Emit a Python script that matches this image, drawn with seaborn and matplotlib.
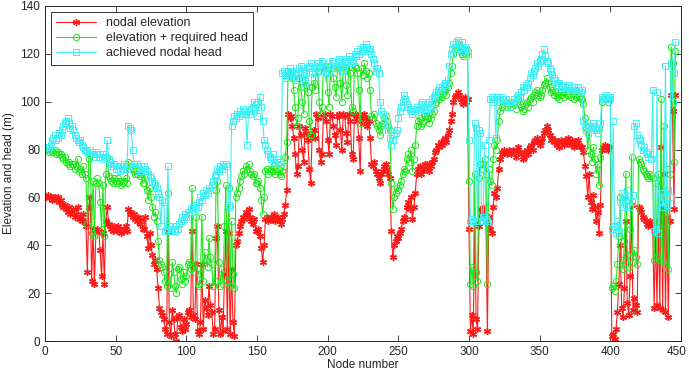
import numpy as np
import pandas as pd
import matplotlib
matplotlib.use("Agg")
import matplotlib.pyplot as plt
import matplotlib.transforms as mtransforms
import seaborn as sns

# values, one per node
elevation = [
    60, 60, 61, 60, 60, 59, 60, 60, 59, 60,
    58, 59, 57, 56, 57, 55, 54, 56, 53, 54,
    55, 52, 53, 56, 51, 52, 50, 53, 50, 48,
    29, 56, 60, 25, 47, 24, 46, 47, 46, 38,
    27, 45, 24, 50, 56, 49, 48, 47, 46, 48,
    47, 46, 48, 47, 45, 46, 47, 48, 46, 55,
    54, 53, 52, 53, 51, 50, 52, 49, 51, 47,
    47, 52, 44, 39, 45, 40, 36, 32, 34, 30,
    22, 14, 12, 11, 9, 5, 3, 46, 8, 2,
    13, 9, 3, 0, 10, 11, 6, 4, 9, 5,
    7, 12, 13, 10, 46, 11, 9, 32, 4, 3,
    8, 32, 5, 17, 14, 11, 23, 15, 12, 3,
    5, 43, 48, 13, 3, 10, 4, 28, 46, 5,
    45, 3, 30, 8, 2, 40, 42, 45, 48, 50,
    52, 51, 54, 53, 55, 52, 50, 49, 51, 46,
    46, 47, 44, 39, 33, 40, 51, 52, 50, 51,
    52, 51, 53, 50, 51, 52, 50, 49, 51, 53,
    57, 63, 95, 93, 94, 90, 85, 78, 70, 73,
    90, 86, 80, 75, 89, 87, 84, 72, 66, 86,
    88, 85, 95, 93, 80, 75, 78, 94, 95, 92,
    84, 78, 95, 94, 90, 86, 82, 94, 95, 88,
    80, 95, 94, 87, 83, 95, 92, 78, 76, 95,
    94, 92, 85, 71, 94, 91, 95, 93, 90, 92,
    85, 74, 73, 75, 71, 70, 68, 66, 70, 71,
    73, 74, 72, 70, 68, 46, 35, 40, 42, 44,
    43, 45, 47, 50, 52, 51, 56, 58, 55, 60,
    51, 56, 62, 70, 72, 73, 70, 71, 72, 74,
    74, 73, 71, 73, 75, 76, 79, 80, 82, 81,
    83, 82, 84, 85, 83, 86, 88, 92, 95, 100,
    102, 103, 104, 103, 101, 100, 99, 102, 100, 101,
    47, 4, 11, 3, 50, 9, 5, 48, 55, 52,
    54, 56, 50, 4, 52, 47, 45, 56, 62, 60,
    64, 72, 76, 78, 79, 80, 79, 78, 80, 79,
    78, 80, 79, 77, 80, 81, 79, 78, 76, 77,
    79, 80, 78, 81, 82, 80, 83, 84, 85, 83,
    82, 83, 85, 87, 88, 90, 88, 86, 84, 85,
    83, 84, 82, 83, 81, 84, 83, 82, 84, 83,
    85, 83, 82, 84, 81, 83, 82, 84, 82, 81,
    81, 79, 73, 69, 60, 70, 58, 55, 61, 56,
    50, 54, 45, 57, 80, 81, 82, 81, 80, 81,
    81, 2, 3, 1, 5, 12, 24, 40, 14, 10,
    22, 50, 16, 11, 27, 57, 13, 18, 15, 12,
    56, 55, 54, 52, 51, 50, 49, 48, 50, 49,
    48, 14, 46, 15, 50, 14, 81, 13, 70, 12,
    52, 10, 50, 103, 96, 55, 103,
]

required_total = [
    80, 80, 80, 79, 80, 79, 79, 80, 78, 79,
    78, 78, 77, 76, 77, 75, 74, 75, 73, 74,
    74, 72, 73, 76, 71, 72, 70, 73, 70, 68,
    49, 76, 78, 45, 67, 44, 66, 68, 66, 58,
    47, 65, 44, 70, 77, 69, 68, 67, 66, 68,
    67, 66, 68, 67, 65, 66, 67, 68, 66, 75,
    72, 73, 72, 71, 70, 70, 71, 69, 70, 66,
    66, 70, 63, 59, 64, 60, 56, 52, 54, 50,
    42, 34, 32, 31, 29, 25, 23, 62, 28, 22,
    33, 29, 23, 20, 30, 31, 26, 24, 29, 25,
    27, 32, 33, 30, 64, 31, 29, 52, 24, 23,
    28, 52, 25, 37, 34, 31, 43, 35, 32, 23,
    25, 63, 67, 33, 23, 30, 24, 48, 65, 25,
    64, 23, 50, 28, 22, 60, 62, 64, 67, 69,
    71, 70, 73, 72, 74, 71, 70, 69, 70, 66,
    66, 67, 64, 59, 53, 60, 71, 72, 70, 71,
    72, 71, 73, 70, 71, 72, 70, 69, 71, 73,
    77, 83, 113, 112, 113, 110, 105, 98, 90, 93,
    110, 106, 100, 95, 109, 107, 104, 92, 86, 106,
    108, 105, 115, 113, 100, 95, 98, 114, 115, 112,
    104, 98, 115, 114, 110, 106, 102, 114, 115, 108,
    100, 115, 114, 107, 103, 115, 112, 98, 96, 115,
    114, 112, 105, 91, 114, 111, 116, 113, 110, 112,
    105, 94, 93, 95, 91, 90, 88, 86, 90, 91,
    93, 94, 92, 90, 88, 66, 55, 60, 62, 64,
    63, 65, 67, 70, 72, 71, 76, 78, 75, 80,
    71, 76, 82, 90, 92, 93, 90, 91, 92, 94,
    94, 93, 91, 93, 95, 96, 99, 100, 102, 101,
    103, 102, 104, 105, 103, 106, 108, 112, 115, 120,
    122, 123, 124, 123, 121, 120, 119, 122, 120, 121,
    67, 24, 31, 23, 70, 29, 25, 68, 74, 72,
    74, 76, 70, 24, 72, 67, 65, 76, 82, 80,
    84, 92, 96, 98, 99, 100, 99, 98, 100, 99,
    98, 100, 99, 97, 100, 101, 99, 98, 96, 97,
    99, 100, 98, 101, 102, 100, 103, 104, 105, 103,
    102, 103, 105, 107, 108, 110, 108, 106, 104, 105,
    103, 104, 102, 103, 101, 104, 103, 102, 104, 103,
    105, 103, 102, 104, 101, 103, 102, 104, 102, 101,
    101, 99, 93, 89, 80, 90, 78, 75, 81, 76,
    70, 74, 65, 77, 100, 101, 102, 101, 100, 101,
    101, 22, 23, 21, 25, 32, 44, 60, 34, 30,
    42, 70, 36, 31, 47, 77, 33, 38, 35, 32,
    76, 75, 74, 72, 71, 70, 69, 68, 70, 69,
    68, 34, 66, 35, 70, 34, 101, 33, 90, 32,
    72, 30, 70, 123, 116, 75, 121,
]

achieved_head = [
    80, 81, 80, 81, 82, 84, 85, 86, 84, 85,
    87, 86, 88, 90, 91, 92, 93, 91, 89, 90,
    88, 86, 85, 84, 83, 84, 82, 81, 80, 80,
    79, 78, 80, 79, 78, 77, 79, 78, 77, 78,
    77, 78, 76, 77, 84, 76, 75, 74, 73, 74,
    72, 73, 72, 71, 73, 72, 74, 73, 72, 90,
    89, 88, 80, 74, 73, 74, 72, 71, 73, 72,
    73, 72, 71, 70, 69, 68, 67, 66, 65, 64,
    62, 60, 48, 59, 58, 46, 47, 73, 48, 47,
    46, 47, 46, 48, 47, 49, 50, 52, 51, 53,
    52, 54, 53, 55, 54, 56, 55, 57, 56, 58,
    60, 59, 62, 61, 63, 62, 64, 63, 65, 67,
    69, 70, 72, 71, 73, 72, 74, 73, 74, 73,
    57, 56, 90, 92, 94, 93, 95, 94, 96, 95,
    97, 96, 95, 82, 96, 95, 97, 98, 100, 99,
    94, 100, 102, 98, 92, 84, 82, 80, 78, 77,
    76, 78, 75, 74, 76, 73, 75, 74, 112, 113,
    111, 110, 113, 114, 112, 113, 110, 111, 109, 112,
    114, 115, 113, 111, 108, 112, 114, 115, 116, 113,
    110, 112, 114, 116, 115, 113, 117, 116, 114, 112,
    110, 113, 115, 117, 116, 114, 115, 117, 118, 116,
    114, 113, 116, 118, 117, 119, 118, 116, 117, 120,
    119, 121, 120, 122, 121, 123, 122, 124, 123, 121,
    122, 120, 118, 116, 113, 114, 112, 100, 96, 95,
    92, 94, 90, 88, 85, 82, 84, 86, 87, 88,
    93, 96, 98, 100, 103, 101, 99, 98, 97, 96,
    95, 97, 96, 98, 95, 97, 99, 100, 98, 96,
    97, 99, 100, 98, 101, 102, 103, 104, 105, 106,
    104, 106, 107, 108, 107, 109, 115, 120, 122, 124,
    123, 125, 126, 124, 122, 125, 121, 123, 122, 120,
    84, 50, 51, 50, 91, 89, 50, 88, 87, 50,
    52, 82, 51, 50, 84, 101, 102, 100, 101, 85,
    102, 101, 100, 102, 101, 100, 101, 99, 100, 98,
    100, 99, 101, 100, 102, 103, 102, 104, 106, 105,
    107, 106, 108, 110, 112, 111, 113, 114, 116, 115,
    117, 118, 120, 122, 119, 117, 116, 114, 113, 111,
    110, 109, 108, 107, 108, 106, 107, 105, 106, 105,
    106, 107, 105, 104, 106, 105, 104, 106, 105, 104,
    105, 92, 90, 88, 87, 89, 88, 90, 91, 89,
    88, 87, 89, 91, 102, 101, 102, 103, 102, 101,
    102, 47, 92, 48, 45, 50, 46, 58, 62, 56,
    60, 57, 63, 59, 56, 58, 61, 90, 91, 86,
    85, 84, 82, 80, 81, 79, 78, 77, 78, 76,
    105, 46, 47, 104, 45, 58, 62, 56, 60, 115,
    57, 63, 60, 116, 100, 112, 125,
]

labels = ["nodal elevation", "elevation + required head", "achieved nodal head"]

df = pd.DataFrame({
    "node": np.arange(len(elevation)),
    "elev": elevation,
    "req": required_total,
    "ach": achieved_head,
})

sns.set_style("ticks")
plt.rcParams["font.family"] = ["Liberation Sans", "DejaVu Sans"]
plt.rcParams["xtick.direction"] = "in"
plt.rcParams["ytick.direction"] = "in"

fig = plt.figure(figsize=(6.89, 3.77), dpi=100)
ax = fig.add_axes([45 / 689, 36 / 377, 636 / 689, 335 / 377])

red, green, cyan = "#ff1a1a", "#1ee61e", "#3ef0f5"

# asterisk markers like the MATLAB '*'
sns.lineplot(data=df, x="node", y="elev", ax=ax, color=red, marker=(6, 2, 0),
             markersize=5, markeredgewidth=1.0, markeredgecolor=red, linewidth=0.8,
             estimator=None, sort=False, label=labels[0])
sns.lineplot(data=df, x="node", y="req", ax=ax, color=green, marker="o",
             markersize=4.5, markerfacecolor="none", markeredgecolor=green,
             markeredgewidth=0.7, linewidth=0.8,
             estimator=None, sort=False, label=labels[1])
sns.lineplot(data=df, x="node", y="ach", ax=ax, color=cyan, marker="s",
             markersize=4.5, markerfacecolor="none", markeredgecolor=cyan,
             markeredgewidth=0.7, linewidth=0.8,
             estimator=None, sort=False, label=labels[2])

ax.set_xlim(0, 450)
ax.set_ylim(0, 140)
ax.set_xticks(np.arange(0, 451, 50))
ax.set_yticks(np.arange(0, 141, 20))
ax.tick_params(top=True, right=True, labelsize=8.5, length=4, width=0.6)
for s in ax.spines.values():
    s.set_visible(True)
    s.set_linewidth(0.7)
ax.set_xlabel("Node number", fontsize=8.5, labelpad=1)
ax.set_ylabel("Elevation and head (m)", fontsize=8.5, labelpad=4)

# nudge the last x tick label so it stays inside the figure
fig.canvas.draw()
last = ax.get_xticklabels()[-1]
last.set_transform(last.get_transform() + mtransforms.ScaledTranslation(-4 / 100, 0, fig.dpi_scale_trans))

leg = ax.legend(loc="upper left", fontsize=9, frameon=True, fancybox=False,
                edgecolor="black", handlelength=3.2, borderaxespad=0.5,
                labelspacing=0.25, borderpad=0.4)
leg.get_frame().set_linewidth(0.7)

fig.savefig("out.png", dpi=100)
